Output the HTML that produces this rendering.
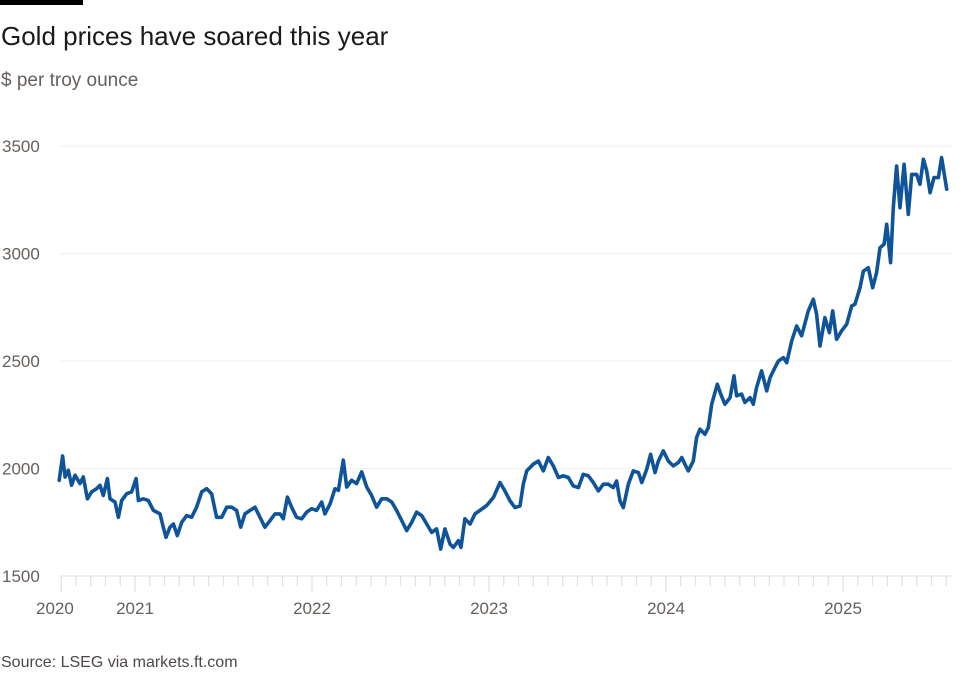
<!DOCTYPE html>
<html><head><meta charset="utf-8"><style>
body{margin:0;background:#fff;}
svg{display:block;font-family:"Liberation Sans",sans-serif;}
</style></head><body>
<svg width="979" height="700">
<rect x="0" y="0" width="83" height="5" fill="#000"/>
<text x="1" y="45" font-size="26" fill="#1a1a1a">Gold prices have soared this year</text>
<text x="1" y="86" font-size="19" fill="#66605c">$ per troy ounce</text>
<g id="grid"></g>
<g id="yticks"></g>
<g id="xticks"></g>
<path id="line" fill="none" stroke="#0f5499" stroke-width="3.6" stroke-linejoin="round" stroke-linecap="round"/>
<text x="1" y="667" font-size="16" fill="#4d4845">Source: LSEG via markets.ft.com</text>
</svg>
<script>
const dates=[2020.572,2020.591,2020.605,2020.623,2020.642,2020.661,2020.689,2020.708,2020.731,2020.755,2020.783,2020.802,2020.821,2020.844,2020.859,2020.887,2020.906,2020.925,2020.953,2020.981,2021.006,2021.019,2021.047,2021.075,2021.104,2021.141,2021.160,2021.175,2021.198,2021.217,2021.239,2021.264,2021.292,2021.320,2021.348,2021.377,2021.405,2021.433,2021.461,2021.490,2021.518,2021.546,2021.574,2021.597,2021.621,2021.650,2021.678,2021.706,2021.734,2021.763,2021.791,2021.819,2021.838,2021.861,2021.885,2021.913,2021.942,2021.970,2021.998,2022.026,2022.055,2022.073,2022.102,2022.130,2022.149,2022.177,2022.196,2022.224,2022.252,2022.281,2022.309,2022.337,2022.365,2022.394,2022.422,2022.450,2022.478,2022.507,2022.535,2022.563,2022.591,2022.620,2022.648,2022.676,2022.704,2022.727,2022.751,2022.780,2022.799,2022.827,2022.842,2022.864,2022.893,2022.921,2022.949,2022.987,2023.025,2023.062,2023.090,2023.119,2023.147,2023.175,2023.194,2023.213,2023.250,2023.279,2023.307,2023.335,2023.363,2023.392,2023.420,2023.448,2023.476,2023.505,2023.533,2023.561,2023.589,2023.618,2023.646,2023.674,2023.702,2023.721,2023.740,2023.759,2023.787,2023.815,2023.844,2023.863,2023.891,2023.913,2023.938,2023.957,2023.985,2024.013,2024.041,2024.070,2024.089,2024.107,2024.126,2024.154,2024.173,2024.192,2024.220,2024.239,2024.258,2024.290,2024.309,2024.333,2024.362,2024.384,2024.399,2024.427,2024.446,2024.475,2024.493,2024.512,2024.540,2024.569,2024.588,2024.616,2024.635,2024.663,2024.682,2024.710,2024.738,2024.766,2024.804,2024.832,2024.851,2024.870,2024.898,2024.923,2024.942,2024.964,2024.992,2025.021,2025.049,2025.068,2025.096,2025.115,2025.143,2025.168,2025.190,2025.209,2025.232,2025.247,2025.269,2025.284,2025.303,2025.322,2025.345,2025.369,2025.388,2025.416,2025.435,2025.454,2025.473,2025.492,2025.514,2025.539,2025.557,2025.586];
const prices=[1945,2058,1960,1992,1922,1969,1930,1961,1859,1891,1906,1922,1875,1953,1859,1844,1773,1851,1883,1891,1953,1851,1859,1851,1805,1789,1727,1680,1727,1742,1688,1750,1781,1773,1820,1891,1906,1883,1773,1773,1820,1820,1805,1727,1789,1805,1820,1773,1727,1758,1789,1789,1766,1867,1820,1773,1766,1797,1813,1805,1844,1789,1836,1906,1898,2039,1914,1945,1930,1984,1914,1875,1820,1859,1859,1844,1805,1758,1711,1750,1797,1781,1742,1703,1719,1625,1719,1648,1633,1664,1633,1766,1742,1789,1805,1828,1865,1935,1896,1849,1818,1826,1927,1989,2020,2035,1989,2051,2012,1958,1966,1958,1919,1911,1973,1966,1935,1896,1927,1927,1911,1942,1849,1818,1927,1989,1981,1935,1996,2066,1981,2035,2082,2035,2012,2028,2051,2020,1989,2035,2144,2183,2159,2190,2299,2392,2346,2299,2330,2431,2338,2346,2307,2330,2299,2377,2454,2361,2423,2470,2500,2516,2492,2593,2663,2617,2733,2787,2717,2570,2702,2632,2733,2601,2640,2671,2756,2764,2841,2918,2934,2841,2911,3027,3043,3136,2957,3213,3407,3213,3415,3182,3368,3368,3322,3438,3384,3283,3353,3353,3446,3299];
const yTicks=[1500,2000,2500,3000,3500];
const yearLabels=["2020","2021","2022","2023","2024","2025"];
const yearValues=[2020.575,2021,2022,2023,2024,2025];

const X0=60,X1=952;
function xScale(t){return 135+(t-2021)*177;}
function yScale(v){return 576-(v-1500)*0.215;}
const ns="http://www.w3.org/2000/svg";
function mk(tag,attrs,parent){const e=document.createElementNS(ns,tag);for(const k in attrs)e.setAttribute(k,attrs[k]);parent.appendChild(e);return e;}

const grid=document.getElementById('grid'),yt=document.getElementById('yticks'),xt=document.getElementById('xticks');
yTicks.forEach(v=>{
  const y=yScale(v);
  const l=mk('line',{x1:X0,x2:X1,y1:y,y2:y,stroke:v===1500?'#e6e0dc':'#f2efed','stroke-width':1},grid);
  
  
  const t=mk('text',{x:2,y:y+6,'font-size':17,fill:'#66605c'},yt);
  t.textContent=v;
  
  
});
// monthly ticks
for(let m=0;m<=60;m++){
  const t=2020+7/12+m/12;
  const x=xScale(t);
  if(x>X1)break;
  const isYear=((m+7)%12===0)||m===0;
  const l=mk('line',{x1:x,x2:x,y1:576,y2:isYear?592:586,stroke:'#e6e0dc','stroke-width':1.2},xt);
  
  
}
yearLabels.forEach((lab,i)=>{
  const x=xScale(yearValues[i]);
  const t=mk('text',{x:i===0?x-24:x,y:614,'font-size':17,fill:'#66605c','text-anchor':i===0?'start':'middle'},xt);
  if(i===0)t.setAttribute('x',36);
  t.textContent=lab;
  
  
});
let d='';
dates.forEach((t,i)=>{d+=(i?'L':'M')+xScale(t).toFixed(1)+','+yScale(prices[i]).toFixed(1);});
document.getElementById('line').setAttribute('d',d);
</script>
</body></html>
